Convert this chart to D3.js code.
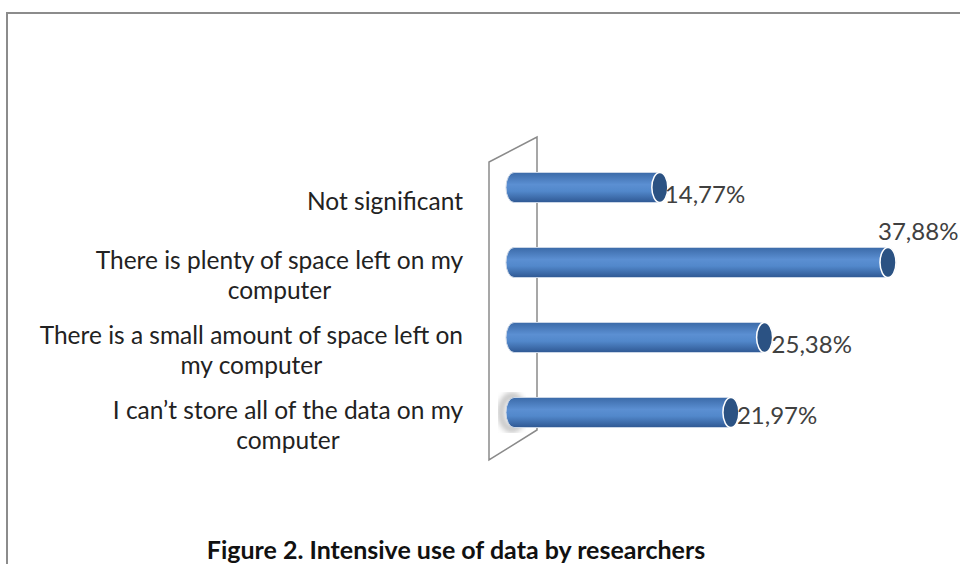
<!DOCTYPE html>
<html>
<head>
<meta charset="utf-8">
<script src="https://cdn.jsdelivr.net/npm/d3@7"></script>
<style>
  body { margin: 0; background: #fff; }
  svg { display: block; }
</style>
</head>
<body>
<script>
(function(d3) {

  // chart values
  var categories = [
    ["Not significant"],
    ["There is plenty of space left on my", "computer"],
    ["There is a small amount of space left on", "my computer"],
    ["I can\u2019t store all of the data on my", "computer"]
  ];
  var values = [14.77, 37.88, 25.38, 21.97];
  var valueLabels = ["14,77%", "37,88%", "25,38%", "21,97%"];
  var title = "Figure 2. Intensive use of data by researchers";

  var width = 960, height = 564;

  var svg = d3.select("body").append("svg")
      .attr("width", width)
      .attr("height", height);

  var defs = svg.append("defs");

  var grad = defs.append("linearGradient")
      .attr("id", "cyl")
      .attr("x1", 0).attr("y1", 0).attr("x2", 0).attr("y2", 1);
  grad.append("stop").attr("offset", "0%").attr("stop-color", "#3b6aa8");
  grad.append("stop").attr("offset", "40%").attr("stop-color", "#5b8fd2");
  grad.append("stop").attr("offset", "62%").attr("stop-color", "#5288cb");
  grad.append("stop").attr("offset", "100%").attr("stop-color", "#2f5893");

  defs.append("filter").attr("id", "blur")
      .append("feGaussianBlur").attr("stdDeviation", 3);

  // outer frame (runs past the right and bottom edges)
  svg.append("path")
      .attr("d", "M7,564 L7,13 L960,13")
      .attr("fill", "none")
      .attr("stroke", "#8c8c8c")
      .attr("stroke-width", 2);

  // scales
  var x = d3.scaleLinear()
      .domain([0, 37.88])
      .range([514, 888]);

  var y = d3.scaleBand()
      .domain(d3.range(values.length))
      .range([150, 450])
      .paddingInner(0.5)
      .paddingOuter(0.25);

  var barH = 30, rx = 8;
  function cy(i) { return y(i) + y.bandwidth() / 2; }

  // the back wall
  svg.append("path")
      .attr("d", "M537,137 L537,430 L489,460 L489,162 Z")
      .attr("fill", "#fff")
      .attr("stroke", "#8a8a8a")
      .attr("stroke-width", 1.5);

  var g = svg.append("g");

  var bars = g.selectAll(".bar")
      .data(values)
    .enter().append("g")
      .attr("class", "bar");

  // shadow on the wall behind the last bar
  bars.filter(function(d, i) { return i === values.length - 1; })
    .append("ellipse")
      .attr("cx", x(0) - 2)
      .attr("cy", cy(values.length - 1))
      .attr("rx", 11)
      .attr("ry", 17)
      .attr("fill", "none")
      .attr("stroke", "#9a9a9a")
      .attr("stroke-width", 4)
      .attr("filter", "url(#blur)");

  function cylPath(v, i) {
    var x0 = x(0), x1 = x(v);
    var t = cy(i) - barH / 2, b = cy(i) + barH / 2;
    return "M" + x0 + "," + t +
      "L" + x1 + "," + t +
      "A" + rx + "," + (barH / 2) + " 0 0 1 " + x1 + "," + b +
      "L" + x0 + "," + b +
      "A" + rx + "," + (barH / 2) + " 0 0 1 " + x0 + "," + t + "Z";
  }

  bars.append("path")
      .attr("d", cylPath)
      .attr("fill", "url(#cyl)")
      .attr("stroke", "#c9d5e6")
      .attr("stroke-width", 1);

  bars.append("ellipse")
      .attr("cx", function(d) { return x(d); })
      .attr("cy", function(d, i) { return cy(i); })
      .attr("rx", rx)
      .attr("ry", barH / 2)
      .attr("fill", "#2b5283")
      .attr("stroke", "#ffffff")
      .attr("stroke-width", 1.5);

  // value labels
  var labelOffsets = [[5, 15], [-10, -23], [7, 15], [6, 11]];
  bars.append("text")
      .attr("x", function(d, i) { return x(d) + labelOffsets[i][0]; })
      .attr("y", function(d, i) { return cy(i) + labelOffsets[i][1]; })
      .attr("font-family", "Lato, 'Open Sans', sans-serif")
      .attr("font-size", 24)
      .attr("fill", "#404040")
      .text(function(d, i) { return valueLabels[i]; });

  // category labels: block right-aligned, lines centred within it
  var labelRight = 463;
  var cats = svg.append("g")
      .attr("font-family", "Lato, 'Open Sans', sans-serif")
      .attr("font-size", 24.5)
      .attr("fill", "#222")
      .attr("text-anchor", "middle");

  cats.selectAll("text")
      .data(categories)
    .enter().append("text")
      .attr("y", function(d, i) { return cy(i) + 22 - (d.length - 1) * 16; })
      .each(function(lines) {
        var t = d3.select(this);
        var spans = lines.map(function(line, k) {
          return t.append("tspan")
              .attr("dy", k === 0 ? 0 : 30)
              .text(line);
        });
        var maxW = d3.max(spans, function(s) { return s.node().getComputedTextLength(); });
        spans.forEach(function(s) { s.attr("x", labelRight - maxW / 2); });
      });

  // caption
  svg.append("text")
      .attr("x", 456)
      .attr("y", 559)
      .attr("text-anchor", "middle")
      .attr("font-family", "Lato, 'Open Sans', sans-serif")
      .attr("font-weight", "bold")
      .attr("font-size", 25)
      .attr("fill", "#111")
      .text(title);

}(d3));
</script>
</body>
</html>
